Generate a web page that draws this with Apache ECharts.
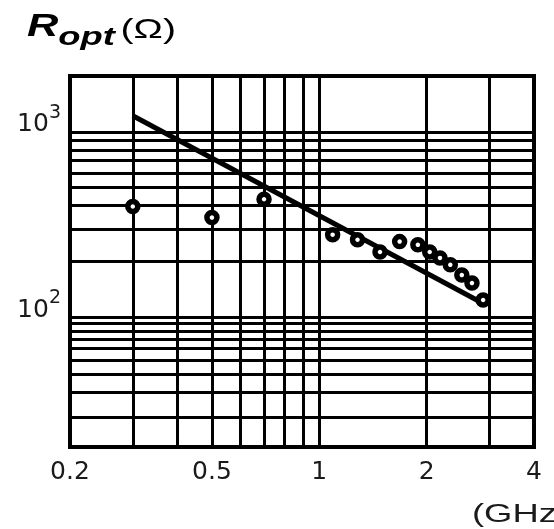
<!DOCTYPE html>
<html>
<head>
<meta charset="utf-8">
<script src="https://cdn.jsdelivr.net/npm/echarts@6/dist/echarts.min.js"></script>
<style>
  html, body { margin: 0; padding: 0; background: #fff; }
  #chart { width: 554px; height: 529px; }
</style>
</head>
<body>
<div id="chart"></div>
<script>
// Optimum source resistance versus frequency (log–log)

// Fitted trend line, GHz / Ω
const fitFreq = [0.3, 2.9];
const fitR = [1220, 118];

// Measured points, GHz / Ω
const measFreq = [0.3, 0.5, 0.7, 1.09, 1.28, 1.48, 1.68, 1.89, 2.04, 2.18, 2.33, 2.51, 2.68, 2.88];
const measR = [396, 345, 433, 279, 262, 225, 256, 246, 225, 209, 192, 169, 153, 124];

// Grid lines and tick labels
const freqGrid = [0.3, 0.4, 0.5, 0.6, 0.7, 0.8, 0.9, 1, 2, 3];
const freqLabels = [0.2, 0.5, 1, 2, 4];
const rGridUpper = [100, 200, 300, 400, 500, 600, 700, 800, 900, 1000];
const rGridLower = [20, 30, 40, 50, 60, 70, 80, 90];
const rLabels = [100, 1000];

const chart = echarts.init(document.getElementById('chart'), null, { renderer: 'canvas' });

const gridLine = { show: true, lineStyle: { color: '#000', width: 3, type: 'solid' } };
const labelFont = 'DejaVu Sans';

chart.setOption({
  animation: false,
  backgroundColor: '#fff',
  grid: {
    left: 70, right: 20, top: 76, bottom: 82,
    show: true, borderColor: '#000', borderWidth: 4, backgroundColor: 'transparent'
  },
  xAxis: {
    type: 'log', logBase: 10, min: 0.2, max: 4,
    axisLine: { show: false },
    axisTick: { show: false, customValues: freqGrid },
    splitLine: gridLine,
    axisLabel: {
      customValues: freqLabels,
      fontFamily: labelFont, fontSize: 25, color: '#1a1a1a', margin: 13,
      formatter: v => String(v)
    }
  },
  yAxis: [
    {
      // main resistance scale, 20 Ω … 2 kΩ
      type: 'log', logBase: 10, min: 20, max: 2000,
      axisLine: { show: false },
      axisTick: { show: false, customValues: rGridUpper },
      splitLine: gridLine,
      axisLabel: {
        customValues: rLabels,
        margin: 9,
        formatter: v => '{b|10}{s|' + Math.round(Math.log10(v)) + '}',
        rich: {
          b: { fontFamily: labelFont, fontSize: 25, color: '#1a1a1a', padding: [0, 0, 14, 0] },
          s: { fontFamily: labelFont, fontSize: 19, color: '#1a1a1a', padding: [0, 0, 38, 0] }
        }
      }
    },
    {
      // the decade below 100 Ω is ruled at a tighter spacing
      type: 'log', logBase: 10, min: 12.33, max: 4842,
      axisLine: { show: false },
      axisTick: { show: false, customValues: rGridLower },
      axisLabel: { show: false },
      splitLine: gridLine
    }
  ],
  series: [
    {
      type: 'line',
      data: fitFreq.map((f, i) => [f, fitR[i]]),
      symbol: 'none',
      lineStyle: { color: '#000', width: 5 },
      z: 3
    },
    {
      type: 'scatter',
      data: measFreq.map((f, i) => [f, measR[i]]),
      symbol: 'circle',
      symbolSize: 10,
      itemStyle: { color: '#fff', borderColor: '#000', borderWidth: 5.5, opacity: 1 },
      z: 4
    }
  ],
  graphic: [
    {
      type: 'text',
      x: 27, y: 12,
      scaleX: 1.4,
      style: {
        text: '{r|R}{o|opt}{p|(Ω)}',
        rich: {
          r: { font: 'italic bold 31px "Liberation Sans"', fill: '#000', padding: [0, 0, 8, 0] },
          o: { font: 'italic bold 26px "Liberation Sans"', fill: '#000', padding: [12, 0, 0, 0] },
          p: { font: '28px "Liberation Sans"', fill: '#000', padding: [0, 0, 2, 4] }
        }
      }
    },
    {
      type: 'text',
      x: 472, y: 502,
      scaleX: 1.4,
      style: { text: '(GHz)', font: '26px "Liberation Sans"', fill: '#1a1a1a' }
    }
  ]
});
</script>
</body>
</html>
